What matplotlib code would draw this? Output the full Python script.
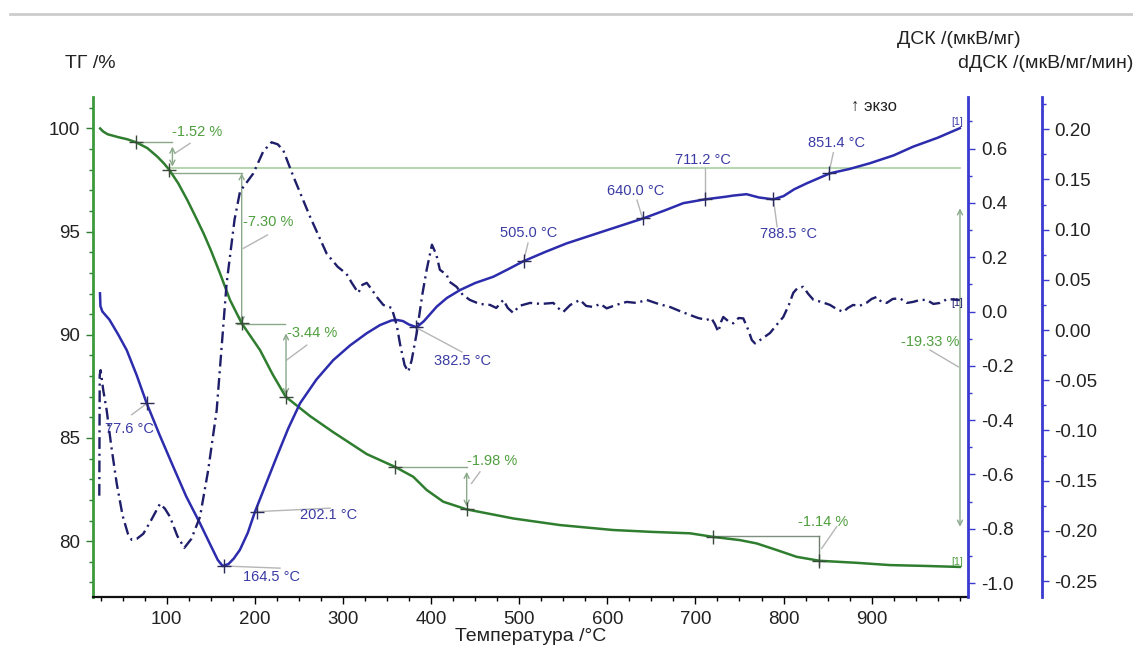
import numpy as np
import matplotlib.pyplot as plt
from matplotlib.ticker import MultipleLocator
from matplotlib.lines import Line2D

plt.rcParams['font.family'] = ['Liberation Sans', 'DejaVu Sans']

# TG curve, %
tg_temp = [24.5, 28, 33, 45, 55, 65.4, 78, 89.5, 97, 103, 113, 123.4, 133, 142, 150,
           160.5, 171.8, 185.1, 205.9, 220, 235, 262.7, 288.7, 327, 342, 359.1, 379.8,
           395, 413.9, 440.4, 493.3, 546.3, 606.6, 650, 694, 719.6, 750.5, 769.5, 792.2,
           814.9, 840.6, 883, 920.8, 960, 1000]
tg_val = [100.0, 99.85, 99.72, 99.58, 99.48, 99.33, 99.05, 98.63, 98.3, 97.99, 97.35,
          96.53, 95.7, 94.9, 94.11, 92.98, 91.69, 90.56, 89.26, 88.1, 87.0, 86.06, 85.29,
          84.22, 83.93, 83.6, 83.12, 82.48, 81.91, 81.54, 81.1, 80.78, 80.54, 80.45, 80.38,
          80.21, 80.05, 79.89, 79.57, 79.24, 79.05, 78.95, 78.84, 78.8, 78.75]

# DSC curve, мкВ/мг
dsc_temp = [24.3, 24.8, 27, 35, 45, 54.6, 66, 77.3, 92, 107.5, 122, 137.8, 150, 158, 163.5,
            170, 176, 183, 192, 200.2, 212, 224.8, 238, 251.3, 270, 289, 308, 327, 342, 355,
            361, 368, 375, 383.7, 392, 406.4, 418, 432.8, 450, 470.6, 487, 504.7, 530, 553.9,
            600, 640.8, 665, 686.2, 710.8, 735, 743, 758, 772, 788.5, 800, 812, 826.3, 852.7,
            875, 898, 925, 947, 975, 1000]
dsc_val = [0.067, 0.02, 0.0, -0.03, -0.085, -0.142, -0.235, -0.338, -0.455, -0.572, -0.68,
           -0.78, -0.862, -0.915, -0.937, -0.93, -0.91, -0.878, -0.815, -0.737, -0.64, -0.535,
           -0.43, -0.338, -0.25, -0.179, -0.125, -0.08, -0.05, -0.033, -0.031, -0.035, -0.048,
           -0.058, -0.035, 0.018, 0.05, 0.079, 0.105, 0.128, 0.155, 0.185, 0.22, 0.251, 0.30,
           0.343, 0.372, 0.399, 0.413, 0.423, 0.427, 0.432, 0.42, 0.413, 0.425, 0.45, 0.472,
           0.509, 0.525, 0.546, 0.575, 0.607, 0.64, 0.675]

# dDSC curve, мкВ/мг/мин
ddsc_temp = [23.5, 24, 25, 28, 31.9, 37, 43.3, 50, 56, 60.3, 66, 73.4, 82, 92.4, 98, 103.7,
             112, 120, 128, 137.8, 147, 156.7, 162, 168, 171.8, 177, 183.2, 198.3, 209.6, 219,
             226, 232.3, 243.7, 262.6, 281.6, 294, 304, 310, 317.4, 322, 327, 333, 338.3, 345.8,
             355.3, 361, 365, 370, 374.2, 378, 383.7, 390, 395, 401, 406, 410, 417.7, 421, 429,
             436, 444, 455, 466.9, 474, 482, 487, 493.3, 500, 512.3, 525, 538.7, 544, 550, 558,
             569, 576, 584, 592, 599.3, 610, 622, 633, 644.7, 658, 671, 682, 693.8, 703, 712.8,
             718, 722, 726, 729, 731.6, 737, 743, 749, 754.3, 760, 764, 767.6, 775, 784.6, 792,
             799.7, 806, 811, 816, 822.4, 828, 834, 843, 852.7, 860, 867.8, 873, 879, 886, 894,
             900, 905.7, 911, 917, 924, 932, 940, 947, 955, 962.4, 970, 977.5, 986, 996.4, 1000]
ddsc_val = [-0.165, -0.045, -0.04, -0.06, -0.08, -0.115, -0.153, -0.185, -0.203, -0.209,
            -0.208, -0.203, -0.19, -0.173, -0.178, -0.186, -0.205, -0.217, -0.208, -0.186,
            -0.14, -0.08, -0.02, 0.0465, 0.073, 0.11, 0.138, 0.156, 0.178, 0.187, 0.185, 0.179,
            0.153, 0.113, 0.076, 0.063, 0.056, 0.047, 0.037, 0.045, 0.047, 0.04, 0.033, 0.025,
            0.022, 0.005, -0.015, -0.035, -0.0415, -0.03, -0.003, 0.035, 0.06, 0.085, 0.075,
            0.06, 0.055, 0.048, 0.043, 0.035, 0.03, 0.026, 0.025, 0.022, 0.03, 0.022, 0.017,
            0.024, 0.027, 0.026, 0.027, 0.022, 0.018, 0.025, 0.03, 0.024, 0.023, 0.026, 0.0216,
            0.025, 0.028, 0.027, 0.03, 0.026, 0.023, 0.019, 0.015, 0.012, 0.01, 0.012, 0.006,
            -0.0017, 0.008, 0.013, 0.009, 0.0067, 0.012, 0.0116, 0.0, -0.01, -0.0133, -0.009,
            -0.003, 0.005, 0.013, 0.025, 0.037, 0.042, 0.043, 0.036, 0.03, 0.028, 0.025, 0.021,
            0.018, 0.022, 0.025, 0.024, 0.027, 0.031, 0.033, 0.028, 0.027, 0.031, 0.0316, 0.027,
            0.028, 0.03, 0.03, 0.026, 0.027, 0.031, 0.03, 0.03]

# DSC peak temperatures and where their labels sit
peak_temp = [77.6, 164.5, 202.1, 382.5, 505.0, 640.0, 711.2, 788.5, 851.4]
peak_val = [-0.338, -0.937, -0.737, -0.058, 0.185, 0.343, 0.413, 0.413, 0.509]
peak_label_xy = [(30, -0.433), (187, -0.978), (251.7, -0.75), (403.4, -0.182), (478.2, 0.288),
                 (599.5, 0.443), (677, 0.557), (773.3, 0.285), (827.7, 0.62)]
peak_leader_end = [(60.3, -0.38), (228.6, -0.945), (285.5, -0.724), (435, -0.149), (510, 0.252),
                   (633.7, 0.41), (711.2, 0.528), (792.7, 0.312), (856.5, 0.585)]

# TG mass-loss steps
tg_mark_temp = [65.4, 103, 185.1, 235.4, 359.1, 440.4, 719.6, 840.6]
tg_mark_val = [99.33, 97.99, 90.56, 87.0, 83.6, 81.54, 80.21, 79.05]
step_text = ['-1.52 %', '-7.30 %', '-3.44 %', '-1.98 %', '-1.14 %', '-19.33 %']
step_text_xy = [(105.7, 99.845), (186.3, 95.48), (236.5, 90.07), (441.1, 83.90), (816.6, 80.94),
                (999.9, 89.67)]
step_leader = [((126.5, 99.28), (109.4, 98.8)), ((214.3, 94.84), (187, 94.19)),
               ((258.9, 89.5), (236.2, 88.78)), ((455.5, 83.36), (445.9, 82.8)),
               ((860.3, 80.70), (843.3, 79.65)), ((966.2, 89.26), (998.3, 88.45))]

GREEN = '#2f7d2f'
GREEN_TXT = '#4f9f3f'
GREEN_LINE = '#8aa88a'
BLUE = '#2c2cad'
NAVY = '#1e1e6a'
BLUE_TXT = '#3b3ba5'
SPINE_BLUE = '#3a3ad0'
GRAY = '#b5b5b5'


def tick_fmt(digits):
    # avoid "-0.0" on the zero tick
    def fmt(v, pos):
        if abs(v) < 1e-9:
            v = 0.0
        return f'{v:.{digits}f}'
    return plt.FuncFormatter(fmt)


fig = plt.figure(figsize=(11.33, 6.46), dpi=100)
ax = fig.add_axes([0.0818, 0.0751, 0.7728, 0.7752])
ax2 = ax.twinx()
ax3 = ax.twinx()

# header rule
fig.add_artist(Line2D([10 / 1133, 1.0], [1 - 14 / 646] * 2, color='#cccccc', lw=2))

# curves
ax.plot(tg_temp, tg_val, color=GREEN, lw=1.8, zorder=5)
ax2.plot(dsc_temp, dsc_val, color=BLUE, lw=1.8, zorder=5)
ax3.plot(ddsc_temp, ddsc_val, color=NAVY, lw=1.7, linestyle=(0, (5, 2, 0.9, 2)), zorder=5)

# TG step annotations
ax.plot([65.4, 106.5], [99.33, 99.33], color=GREEN_LINE, lw=1)
ax.plot([103, 185.1], [97.83, 97.83], color=GREEN_LINE, lw=1)
ax.plot([103, 1000], [98.10, 98.10], color='#a8d0a0', lw=1.2)
ax.plot([179.6, 234.6], [90.51, 90.51], color=GREEN_LINE, lw=1)
ax.plot([359.1, 440.4], [83.58, 83.58], color=GREEN_LINE, lw=1)
ax.plot([719.6, 840.6], [80.25, 80.25], color='#7f8f7f', lw=1)
ax.plot([840.6, 840.6], [80.25, 78.84], color='#6f7f6f', lw=1)
arrows = [(106.5, 99.12, 98.15), (185.1, 97.83, 90.56), (235.4, 90.07, 87.08),
          (440.4, 83.36, 81.67), (1000.2, 96.13, 80.70)]
for t, v0, v1 in arrows:
    ax.annotate('', xy=(t, v1), xytext=(t, v0),
                arrowprops=dict(arrowstyle='<->', color=GREEN_LINE, lw=1,
                                shrinkA=0, shrinkB=0, mutation_scale=9))
ax.plot(tg_mark_temp, tg_mark_val, '+', color='#3a4a3a', ms=10, mew=1, zorder=6)
for i, txt in enumerate(step_text):
    (a, b), (c, d) = step_leader[i]
    ax.plot([a, c], [b, d], color=GRAY, lw=1)
    ha = 'right' if i == len(step_text) - 1 else 'left'
    ax.text(step_text_xy[i][0], step_text_xy[i][1], txt, color=GREEN_TXT, fontsize=10.5,
            ha=ha, va='center')
ax.text(1003.8, 78.99, '[1]', color=GREEN_TXT, fontsize=7.5, ha='right', va='center')

# DSC peak labels
ax2.plot(peak_temp, peak_val, '+', color='#2a2a5a', ms=10, mew=1, zorder=6)
for i, t in enumerate(peak_temp):
    lx, ly = peak_leader_end[i]
    ax2.plot([t, lx], [peak_val[i], ly], color=GRAY, lw=1)
    ax2.text(peak_label_xy[i][0], peak_label_xy[i][1], f'{t:.1f} °C', color=BLUE_TXT,
             fontsize=10.5, ha='left', va='center')
ax2.text(1003.8, 0.698, '[1]', color=BLUE_TXT, fontsize=7.5, ha='right', va='center')
ax3.text(1003.8, 0.027, '[1]', color=NAVY, fontsize=7.5, ha='right', va='center')

# limits
ax.set_xlim(16.0, 1009.6)
ax.set_ylim(77.27, 101.54)
ax2.set_ylim(-1.053, 0.791)
ax3.set_ylim(-0.2664, 0.2324)

# ticks
ax.set_xticks(range(100, 1000, 100))
ax.xaxis.set_minor_locator(MultipleLocator(25))
ax.set_yticks([80, 85, 90, 95, 100])
ax.yaxis.set_minor_locator(MultipleLocator(1))
ax2.set_yticks(np.round(np.arange(-1.0, 0.61, 0.2), 1))
ax2.yaxis.set_minor_locator(MultipleLocator(0.1))
ax3.set_yticks(np.round(np.arange(-0.25, 0.21, 0.05), 2))
ax3.yaxis.set_minor_locator(MultipleLocator(0.025))
ax2.yaxis.set_major_formatter(tick_fmt(1))
ax3.yaxis.set_major_formatter(tick_fmt(2))

ax.tick_params(axis='x', which='major', length=5, width=1, labelsize=13.5, pad=5,
               labelcolor='#222222')
ax.tick_params(axis='x', which='minor', length=3, width=1)
ax.tick_params(axis='y', which='major', length=5, width=1, color=GREEN, labelsize=13.5,
               pad=4, labelcolor='#222222')
ax.tick_params(axis='y', which='minor', length=3, width=1, color=GREEN)
for a in (ax2, ax3):
    a.tick_params(axis='y', which='major', length=5, width=1, color=SPINE_BLUE,
                  labelsize=13.5, pad=4, labelcolor='#222222')
    a.tick_params(axis='y', which='minor', length=3, width=1, color=SPINE_BLUE)

# spines
for s in ('top', 'right'):
    ax.spines[s].set_visible(False)
ax.spines['left'].set_color('#3c9a3c')
ax.spines['left'].set_linewidth(2)
ax.spines['bottom'].set_color('#111111')
ax.spines['bottom'].set_linewidth(1.6)
for a in (ax2, ax3):
    for s in ('top', 'left', 'bottom'):
        a.spines[s].set_visible(False)
    a.spines['right'].set_color(SPINE_BLUE)
    a.spines['right'].set_linewidth(2)
ax3.spines['right'].set_position(('outward', 52.85))

# axis titles
fig.text(65 / 1133, 1 - 63 / 646, 'ТГ /%', fontsize=14, ha='left', va='center', color='#222222')
fig.text(897 / 1133, 1 - 39 / 646, 'ДСК /(мкВ/мг)', fontsize=14, ha='left', va='center',
         color='#222222')
fig.text(1133 / 1133, 1 - 63 / 646, 'dДСК /(мкВ/мг/мин)', fontsize=14, ha='right', va='center',
         color='#222222')
fig.text(531 / 1133, 1 - 641 / 646, 'Температура /°C', fontsize=14, ha='center',
         va='baseline', color='#222222')
fig.text(851 / 1133, 1 - 106 / 646, '↑ экзо', fontsize=12, ha='left', va='center',
         color='#222222')

fig.savefig('out.png', dpi=100)
